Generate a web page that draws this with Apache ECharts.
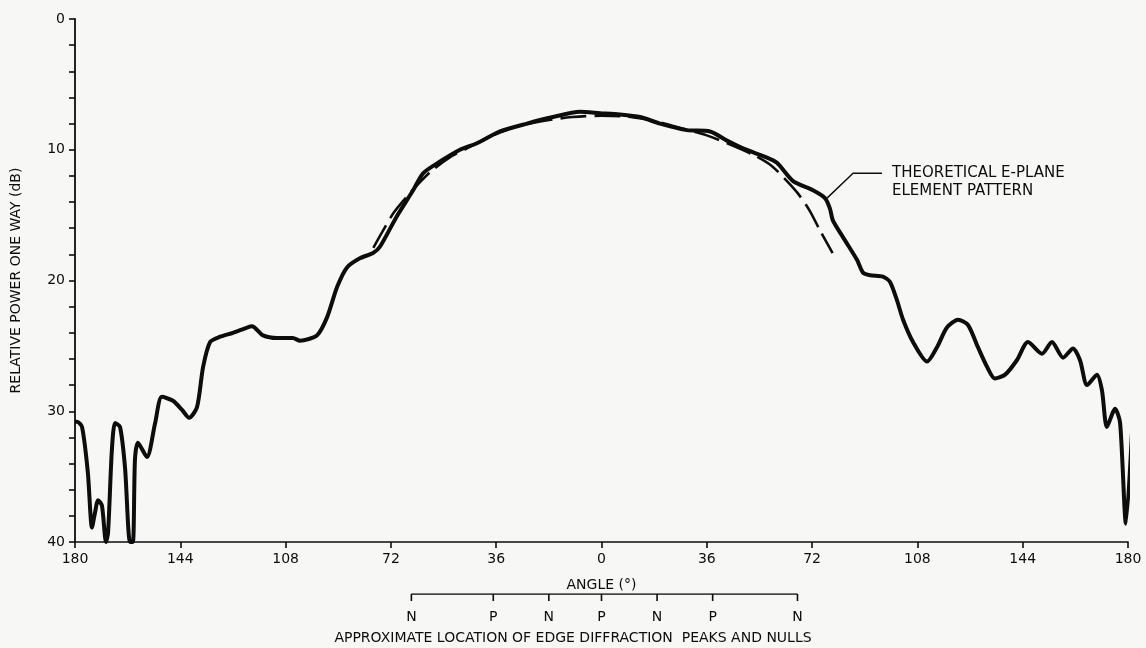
<!DOCTYPE html>
<html>
<head>
<meta charset="utf-8">
<title>E-plane pattern</title>
<script src="https://cdn.jsdelivr.net/npm/echarts@6/dist/echarts.min.js"></script>
<style>
  html, body { margin: 0; padding: 0; background: #f7f7f5; }
  #chart { width: 1146px; height: 648px; }
</style>
</head>
<body>
<div id="chart"></div>
<script>
// angle in degrees (left half negative, labelled without sign), power in dB
const measured = [
  [-180, 30.8], [-179.3, 30.8], [-177.6, 31.2], [-175.6, 34.7], [-174.2, 38.9], [-173.2, 37.8],
  [-172.1, 36.8], [-170.8, 37.2], [-169.4, 40], [-168.7, 39.3], [-167.4, 33], [-166.3, 30.9],
  [-164.6, 31.2], [-162.9, 34.3], [-161.2, 40], [-160.2, 40], [-159.5, 33.7], [-158.5, 32.4],
  [-155.4, 33.5], [-152.6, 30.9], [-150.3, 28.9], [-146.5, 29.2], [-143.4, 29.9], [-141.0, 30.5],
  [-138.3, 29.7], [-136.2, 26.6], [-133.8, 24.7], [-130.4, 24.3], [-126.0, 24.0], [-121.2, 23.6],
  [-119.5, 23.5], [-115.7, 24.2], [-110.9, 24.4], [-105.5, 24.4], [-103.1, 24.6], [-97.3, 24.2],
  [-93.8, 22.8], [-90.4, 20.5], [-87.0, 19.0], [-82.6, 18.3], [-78.1, 17.9], [-75.7, 17.4],
  [-70, 15.1], [-64.4, 13.1], [-61, 11.8], [-55.2, 10.9], [-48.4, 10.0], [-42.6, 9.5],
  [-34.7, 8.6], [-25.5, 8.0], [-16.6, 7.5], [-7.4, 7.1], [-0.5, 7.2], [6.3, 7.3],
  [13.2, 7.5], [20, 8.0], [29.2, 8.5], [37.1, 8.6], [42.9, 9.3], [48.4, 9.9],
  [56.6, 10.6], [60, 11.0], [65.5, 12.4], [72.3, 13.1], [76.4, 13.7], [78.1, 14.5],
  [79.1, 15.4], [82.6, 16.7], [87.3, 18.4], [89.4, 19.4], [91.8, 19.6], [96.2, 19.7],
  [98.6, 20.1], [101, 21.5], [103.1, 23.0], [106.5, 24.7], [111.3, 26.2], [114.7, 25.1],
  [118.1, 23.6], [121.9, 23.0], [125.3, 23.4], [128.7, 25.1], [131.8, 26.6], [134.5, 27.5],
  [138, 27.2], [142, 26.1], [145.8, 24.7], [150.6, 25.6], [154, 24.7], [157.8, 25.9],
  [161.2, 25.2], [163.6, 26.1], [166, 28.0], [169.4, 27.2], [171.1, 28.4], [172.8, 31.2],
  [175.6, 29.8], [177.3, 30.9], [179.3, 38.6], [181.5, 31.0]
]

const theoretical = [
  [-78, 17.5], [-75, 16.3], [-71, 14.8], [-67, 13.7], [-63, 12.7], [-58, 11.6], [-52, 10.6],
  [-46, 9.9], [-38, 9.0], [-30, 8.3], [-20, 7.8], [-10, 7.5], [0, 7.4], [10, 7.5], [20, 7.9],
  [28, 8.4], [36, 8.9], [44, 9.6], [52, 10.4], [58, 11.2], [63, 12.3], [67, 13.3], [71, 14.6],
  [75, 16.3], [79, 17.9]
]

// leader from the curve to the note
const leader = [[77.1, 13.7], [86.0, 11.8], [95.9, 11.8]]
const noteText = 'THEORETICAL E-PLANE\nELEMENT PATTERN'

// edge diffraction peaks (P) and nulls (N)
const edgeAngles = [-65, -37, -18, 0, 19, 38, 67]
const edgeMarks = ['N', 'P', 'N', 'P', 'N', 'P', 'N']

const ink = '#0d0d0d'
const font = 'DejaVu Sans'

const chart = echarts.init(document.getElementById('chart'))

const option = {
  backgroundColor: '#f7f7f5',
  animation: false,
  textStyle: { fontFamily: font, color: ink },
  title: {
    text: 'APPROXIMATE LOCATION OF EDGE DIFFRACTION  PEAKS AND NULLS',
    left: 'center',
    top: 626,
    textStyle: { fontFamily: font, fontSize: 14, fontWeight: 'normal', color: ink }
  },
  grid: [
    { left: 75, right: 18, top: 19, bottom: 106 },
    { left: 75, right: 18, top: 594, height: 10 }
  ],
  xAxis: [
    {
      type: 'value',
      gridIndex: 0,
      position: 'bottom',
      min: -180,
      max: 180,
      interval: 36,
      name: 'ANGLE (°)',
      nameLocation: 'middle',
      nameGap: 36,
      nameTextStyle: { fontSize: 14, color: ink },
      axisLine: { show: true, onZero: false, lineStyle: { color: ink, width: 1.6 } },
      axisTick: { show: true, length: 6, lineStyle: { color: ink, width: 1.6 } },
      axisLabel: { fontSize: 14, color: ink, margin: 10, formatter: v => Math.abs(v) },
      splitLine: { show: false }
    },
    {
      type: 'value',
      gridIndex: 1,
      min: -180,
      max: 180,
      show: false
    }
  ],
  yAxis: [
    {
      type: 'value',
      gridIndex: 0,
      position: 'left',
      inverse: true,
      min: 0,
      max: 40,
      interval: 2,
      name: 'RELATIVE POWER ONE WAY (dB)',
      nameLocation: 'middle',
      nameRotate: 90,
      nameGap: 52,
      nameTextStyle: { fontSize: 14, color: ink },
      axisLine: { show: true, onZero: false, lineStyle: { color: ink, width: 1.8 } },
      axisTick: { show: true, length: 6, lineStyle: { color: ink, width: 1.6 } },
      axisLabel: {
        fontSize: 14,
        color: ink,
        margin: 10,
        formatter: v => (v % 10 === 0 ? String(v) : '')
      },
      splitLine: { show: false }
    },
    {
      type: 'value',
      gridIndex: 1,
      min: 0,
      max: 1,
      show: false
    }
  ],
  series: [
    {
      name: 'measured',
      type: 'line',
      data: measured,
      smooth: 0.25,
      clip: false,
      symbol: 'none',
      lineStyle: { color: ink, width: 4 }
    },
    {
      name: 'theoretical',
      type: 'line',
      data: theoretical,
      smooth: 0.3,
      symbol: 'none',
      lineStyle: { color: ink, width: 2.6, type: [26, 8] }
    },
    {
      name: 'leader',
      type: 'line',
      data: leader,
      symbol: 'none',
      lineStyle: { color: ink, width: 1.4 }
    },
    {
      name: 'note',
      type: 'scatter',
      data: [leader[leader.length - 1]],
      symbolSize: 0,
      itemStyle: { color: ink, opacity: 1 },
      label: {
        show: true,
        position: 'right',
        distance: 10,
        offset: [0, 9],
        formatter: noteText,
        fontSize: 15,
        lineHeight: 18,
        color: ink,
        align: 'left'
      }
    },
    {
      name: 'bracket',
      type: 'line',
      xAxisIndex: 1,
      yAxisIndex: 1,
      data: [[edgeAngles[0], 1], [edgeAngles[edgeAngles.length - 1], 1]],
      symbol: 'none',
      lineStyle: { color: ink, width: 1.6 }
    },
    {
      name: 'edge marks',
      type: 'scatter',
      xAxisIndex: 1,
      yAxisIndex: 1,
      data: edgeAngles.map(a => [a, 1]),
      symbol: 'rect',
      symbolSize: [1.6, 7],
      symbolOffset: [0, 3.5],
      itemStyle: { color: ink, opacity: 1 },
      label: {
        show: true,
        position: 'bottom',
        distance: 9,
        fontSize: 14,
        color: ink,
        formatter: p => edgeMarks[p.dataIndex]
      }
    }
  ]
}

chart.setOption(option)
</script>
</body>
</html>
